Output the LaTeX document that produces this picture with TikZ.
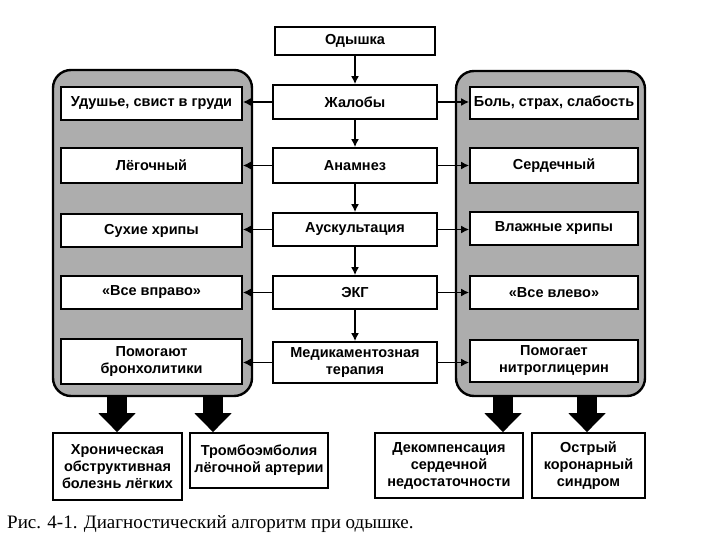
\documentclass[tikz,border=0pt]{standalone}
\usepackage{fontspec}
\setmainfont{Liberation Sans}
\newfontfamily\capfont{Liberation Serif}
\usetikzlibrary{arrows.meta}
\begin{document}
\begin{tikzpicture}[x=1pt,y=-1pt,
  box/.style={draw=black,line width=1.7pt,fill=white,inner sep=0pt,align=center,
    font=\bfseries\fontsize{14.5}{17}\selectfont},
  panel/.style={draw=black,line width=2.4pt,fill=black!32,rounded corners=18pt,inner sep=0pt},
  conn/.style={line width=1.7pt,-{Latex[length=8pt,width=8pt]}},
  blockarrow/.style={line width=20pt,-{Triangle[length=19pt,width=36pt]}}]
\useasboundingbox (0,0) rectangle (720,540);
% panels
\node[panel,minimum width=199pt,minimum height=326pt] (lpanel) at (152.5,233) {};
\node[panel,minimum width=189pt,minimum height=325pt] (rpanel) at (550.5,233.5) {};
% centre column
\node[box,minimum width=160pt,minimum height=28pt] (odysh) at (355,41) {Одышка};
\node[box,minimum width=164pt,minimum height=34pt] (zhal) at (355,102) {Жалобы};
\node[box,minimum width=164pt,minimum height=35pt] (anam) at (355,165.5) {Анамнез};
\node[box,minimum width=164pt,minimum height=33pt] (ausk) at (355,229.5) {Аускультация};
\node[box,minimum width=164pt,minimum height=33pt] (ekg) at (355,292.5) {ЭКГ};
\node[box,minimum width=164pt,minimum height=41pt] (med) at (355,362.5) {Медикаментозная\\терапия};
% left column
\node[box,minimum width=181pt,minimum height=33pt] (l1) at (151.5,103.5) {Удушье, свист в груди};
\node[box,minimum width=181pt,minimum height=35pt] (l2) at (151.5,165.5) {Лёгочный};
\node[box,minimum width=181pt,minimum height=33pt] (l3) at (151.5,230.5) {Сухие хрипы};
\node[box,minimum width=181pt,minimum height=33pt] (l4) at (151.5,292.5) {«Все вправо»};
\node[box,minimum width=181pt,minimum height=45pt] (l5) at (151.5,361.5) {Помогают\\бронхолитики};
% right column
\node[box,minimum width=168pt,minimum height=32pt] (r1) at (554,103) {Боль, страх, слабость};
\node[box,minimum width=168pt,minimum height=35pt] (r2) at (554,165.5) {Сердечный};
\node[box,minimum width=168pt,minimum height=33pt] (r3) at (554,228.5) {Влажные хрипы};
\node[box,minimum width=168pt,minimum height=33pt] (r4) at (554,292.5) {«Все влево»};
\node[box,minimum width=168pt,minimum height=42pt] (r5) at (554,361) {Помогает\\нитроглицерин};
% bottom boxes
\node[box,minimum width=129pt,minimum height=67pt] (b1) at (117.5,466.5) {Хроническая\\обструктивная\\болезнь лёгких};
\node[box,minimum width=138pt,minimum height=55pt] (b2) at (259,460.5) {Тромбоэмболия\\лёгочной артерии};
\node[box,minimum width=148pt,minimum height=65pt] (b3) at (449,465.5) {Декомпенсация\\сердечной\\недостаточности};
\node[box,minimum width=113pt,minimum height=65pt] (b4) at (588.5,465.5) {Острый\\коронарный\\синдром};
% vertical connectors
\draw[conn] (odysh) -- (zhal);
\draw[conn] (zhal) -- (anam);
\draw[conn] (anam) -- (ausk);
\draw[conn] (ausk) -- (ekg);
\draw[conn] (ekg) -- (med);
% horizontal connectors
\foreach \c/\l/\r in {zhal/l1/r1,anam/l2/r2,ausk/l3/r3,ekg/l4/r4,med/l5/r5}{
  \draw[conn] (\c.west) -- (\c.west -| \l.east);
  \draw[conn] (\c.east) -- (\c.east -| \r.west);
}
% block arrows
\coordinate (a1) at (117,396);
\coordinate (a2) at (213,396);
\coordinate (a3) at (503,396);
\coordinate (a4) at (587,396);
\draw[blockarrow] (a1) -- (a1 |- b1.north);
\draw[blockarrow] (a2) -- (a2 |- b2.north);
\draw[blockarrow] (a3) -- (a3 |- b3.north);
\draw[blockarrow] (a4) -- (a4 |- b4.north);
% caption
\node[anchor=west,inner sep=0pt,font=\capfont\fontsize{19}{22}\selectfont] (cap) at (7,524) {Рис. 4-1. Диагностический алгоритм при одышке.};
\end{tikzpicture}
\end{document}
